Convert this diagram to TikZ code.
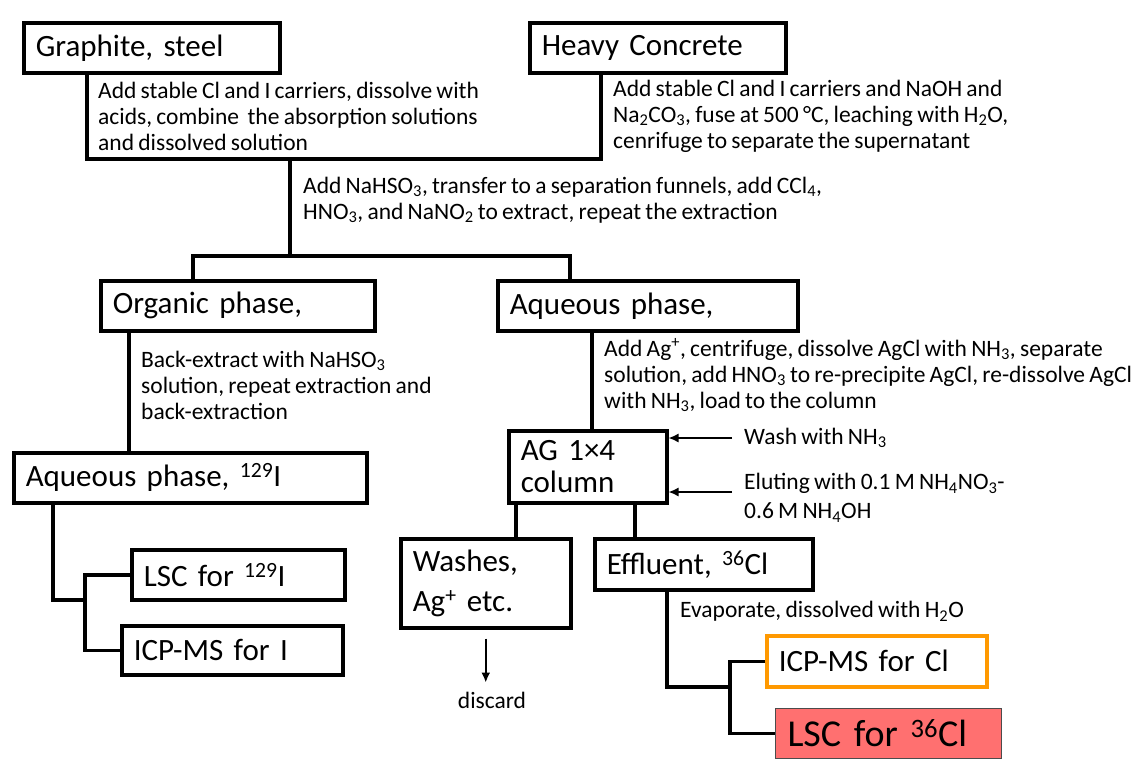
\documentclass[tikz,border=0pt]{standalone}
\usepackage{fontspec}
\setmainfont{Carlito}[WordSpace=0.8]
\usetikzlibrary{arrows.meta}
\definecolor{boxorange}{RGB}{255,153,0}
\definecolor{boxred}{RGB}{255,112,112}
\newcommand{\bigtxt}{\fontsize{31}{32}\selectfont}
\newcommand{\smalltxt}{\fontsize{23.5}{26}\selectfont}
\tikzstyle{stepbox} = [rectangle, draw, line width=3.5pt, anchor=north west, align=left, inner xsep=12pt, inner ysep=0pt, font=\bigtxt]
\tikzstyle{note} = [anchor=west, align=left, inner sep=0pt, font=\smalltxt]
\tikzstyle{link} = [line width=3.5pt]
\tikzstyle{arrow} = [line width=1.5pt,-{Latex[length=10pt,width=9pt]}]

\begin{document}
\begin{tikzpicture}[x=1pt,y=-1pt]
        \useasboundingbox (0,0) rectangle (1140,758);
        % boxes
        \node [stepbox, text width=232pt, minimum height=50pt] at (22,21) (graphite) {Graphite, steel};
        \node [stepbox, text width=232pt, minimum height=50pt] at (528,21) (concrete) {Heavy Concrete};
        \node [stepbox, text width=250pt, minimum height=50pt] at (99,279) (organic) {Organic phase,};
        \node [stepbox, text width=276pt, minimum height=50pt] at (496,279) (aqueous) {Aqueous phase,};
        \node [stepbox, text width=329pt, minimum height=50pt] at (12,451) (aqiodine) {Aqueous phase, \textsuperscript{129}I};
        \node [stepbox, text width=134pt, minimum height=72pt] at (507,429) (column) {AG 1×4\\column};
        \node [stepbox, text width=146pt, minimum height=89pt, font=\fontsize{31}{40}\selectfont] at (399,537) (washes) {Washes,\\Ag\textsuperscript{+} etc.};
        \node [stepbox, text width=194pt, minimum height=51pt] at (593,537) (effluent) {Effluent, \textsuperscript{36}Cl};
        \node [stepbox, text width=189pt, minimum height=50pt] at (130,548) (lsciodine) {LSC for \textsuperscript{129}I};
        \node [stepbox, text width=197pt, minimum height=49pt] at (120,624) (icpiodine) {ICP-MS for I};
        \node [stepbox, draw=boxorange, text width=196pt, minimum height=51pt] at (765,634) (icpcl) {ICP-MS for Cl};
        \node [stepbox, draw=black!70, line width=1pt, fill=boxred, text width=202pt, minimum height=50pt, font=\fontsize{38}{40}\selectfont] at (775,708) (lsccl) {LSC for \textsuperscript{36}Cl};
        % step notes
        \node [note] at (98,116) (lblgraphite) {Add stable Cl and I carriers, dissolve with\\acids, combine\ \ the absorption solutions\\and dissolved solution};
        \node [note] at (613,116) (lblconcrete) {Add stable Cl and I carriers and NaOH and\\Na\textsubscript{2}CO\textsubscript{3}, fuse at 500~°C, leaching with H\textsubscript{2}O,\\cenrifuge to separate the supernatant};
        \node [note] at (303,200) (lblextract) {Add NaHSO\textsubscript{3}, transfer to a separation funnels, add CCl\textsubscript{4},\\HNO\textsubscript{3}, and NaNO\textsubscript{2} to extract, repeat the extraction};
        \node [note] at (141,385) (lblback) {Back-extract with NaHSO\textsubscript{3}\\solution, repeat extraction and\\back-extraction};
        \node [note] at (604,375) (lblsilver) {Add Ag\textsuperscript{+}, centrifuge, dissolve AgCl with NH\textsubscript{3}, separate\\solution, add HNO\textsubscript{3} to re-precipite AgCl, re-dissolve AgCl\\with NH\textsubscript{3}, load to the column};
        \node [note] at (744,438) (lblwash) {Wash with NH\textsubscript{3}};
        \node [note, font=\fontsize{23.5}{29}\selectfont] at (744,498) (lblelute) {Eluting with 0.1 M NH\textsubscript{4}NO\textsubscript{3}-\\0.6 M NH\textsubscript{4}OH};
        \node [note] at (680,611) (lblevap) {Evaporate, dissolved with H\textsubscript{2}O};
        \node [note, anchor=center] at (492,700) (discard) {discard};
        % joints
        \coordinate (merge) at (290,159);
        \coordinate (split) at (290,256);
        \coordinate (ibranch) at (85,600);
        \coordinate (clbranch) at (730,687);
        \coordinate (washin) at (732,438);
        \coordinate (eluin) at (732,492);
        \coordinate (orgout) at ([xshift=30pt]organic.south west);
        \coordinate (aqout) at ([xshift=96pt]aqueous.south west);
        \coordinate (aqiout) at ([xshift=41pt]aqiodine.south west);
        \coordinate (colwash) at ([xshift=9pt]column.south west);
        \coordinate (coleff) at ([xshift=128pt]column.south west);
        \coordinate (effout) at ([xshift=74pt]effluent.south west);
        \path (washes.south |- discard.north) coordinate (discardtop);
        % connectors
        \draw [link] ([xshift=65pt]graphite.south west) |- (merge) -| ([xshift=73pt]concrete.south west);
        \draw [link] (merge) -- (split);
        \draw [link] ([xshift=94pt]organic.north west) |- (split) -| ([xshift=74pt]aqueous.north west);
        \draw [link] (orgout) -- (orgout |- aqiodine.north);
        \draw [link] (aqout) -- (aqout |- column.north);
        \draw [link] (colwash) -- (colwash |- washes.north);
        \draw [link] (coleff) -- (coleff |- effluent.north);
        \draw [link] (aqiout) |- (ibranch);
        \draw [link] (lsciodine.west) -| (ibranch) |- (icpiodine.west);
        \draw [link] (effout) |- (clbranch);
        \draw [link] (icpcl.west) -| (clbranch) |- (lsccl.west);
        \draw [arrow] (washin) -- (washin -| column.east);
        \draw [arrow] (eluin) -- (eluin -| column.east);
        \draw [arrow, line width=2.5pt] ([yshift=-9pt]washes.south) -- ([yshift=9pt]discardtop);
\end{tikzpicture}
\end{document}
